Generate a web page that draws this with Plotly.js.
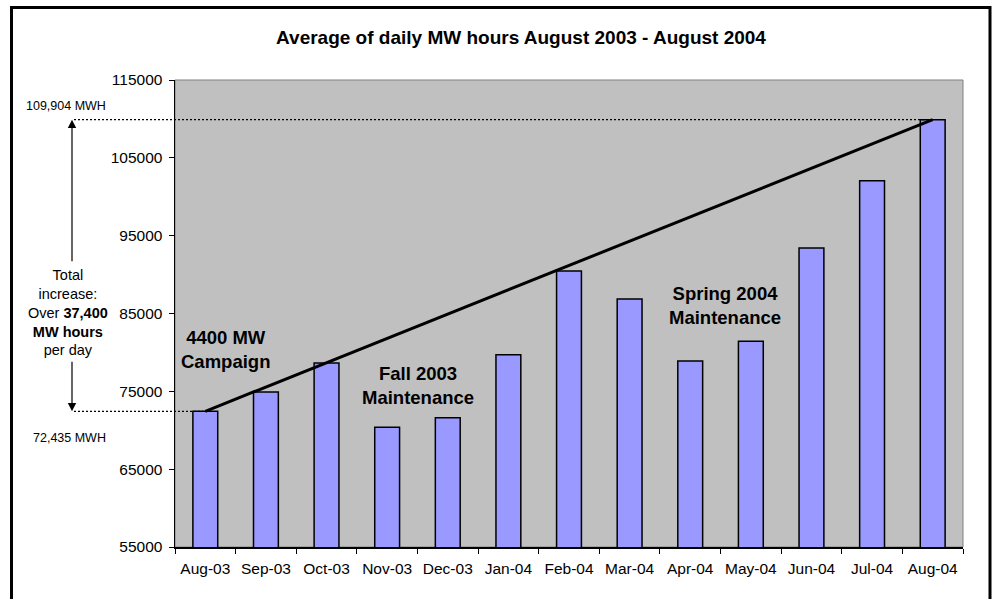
<!DOCTYPE html>
<html>
<head>
<meta charset="utf-8">
<script src="https://cdn.plot.ly/plotly-3.0.1.min.js"></script>
<style>html,body{margin:0;padding:0;background:#fff;}#chart{width:993px;height:599px;}</style>
</head>
<body>
<div id="chart"></div>
<script>
// ---- data ----
const months = ["Aug-03","Sep-03","Oct-03","Nov-03","Dec-03","Jan-04","Feb-04","Mar-04","Apr-04","May-04","Jun-04","Jul-04","Aug-04"];
const mwHours = [72435, 74900, 78650, 70400, 71600, 79700, 90450, 86850, 78900, 81450, 93400, 102050, 109904];
const yTicks = [55000, 65000, 75000, 85000, 95000, 105000, 115000];
const titleText = "Average of daily MW hours August 2003 - August 2004";
const startLabel = "72,435 MWH";
const endLabel = "109,904 MWH";
const increaseText = "Total<br>increase:<br>Over <b>37,400</b><br><b>MW hours</b><br>per day";
const notes = ["4400 MW<br>Campaign", "Fall 2003<br>Maintenance", "Spring 2004<br>Maintenance"];

// ---- layout geometry (pixels) ----
const W = 993, H = 599;
const L = 175, R = 963, T = 80, B = 547;
const pw = R - L, ph = B - T;
const px = x => (x - L) / pw;          // pixel x -> paper x
const py = y => (B - y) / ph;          // pixel y -> paper y
const n = months.length;
const catPaper = i => (i + 0.5) / n;
const last = n - 1;
const font = "'Liberation Sans', Arial, sans-serif";
const boldLines = s => "<b>" + s.split("<br>").join("</b><br><b>") + "</b>";

const bars = {
  type: "bar", x: months, y: mwHours,
  marker: {color: "#9999FF", line: {color: "#000", width: 1.5}},
  hoverinfo: "x+y"
};
const trend = {
  type: "scatter", mode: "lines",
  x: [months[0], months[last]], y: [mwHours[0], mwHours[last]],
  line: {color: "#000", width: 3}, hoverinfo: "skip"
};

const layout = {
  width: W, height: H,
  margin: {l: L, r: W - R, t: T, b: H - B, pad: 0},
  paper_bgcolor: "#fff", plot_bgcolor: "#C0C0C0",
  showlegend: false, bargap: 0.59,
  font: {family: font, color: "#000"},
  title: {text: "<b>" + titleText + "</b>", font: {family: font, size: 19, color: "#000"},
          xref: "container", yref: "container", x: 521 / W, y: 1 - 37 / H,
          xanchor: "center", yanchor: "middle"},
  xaxis: {type: "category", showgrid: false, zeroline: false,
          showline: true, linecolor: "#000", linewidth: 1.5,
          ticks: "outside", tickson: "boundaries", ticklen: 5, tickcolor: "#000", tickwidth: 1,
          tickangle: 0, ticklabelstandoff: 7,
          tickfont: {family: font, size: 15.5, color: "#000"}, fixedrange: true},
  yaxis: {range: [yTicks[0], yTicks[yTicks.length - 1]], tickvals: yTicks, ticktext: yTicks.map(String),
          showgrid: false, zeroline: false,
          showline: true, linecolor: "#000", linewidth: 1.5,
          ticks: "outside", ticklen: 5, tickcolor: "#000", tickwidth: 1,
          ticklabelstandoff: 3,
          tickfont: {family: font, size: 15.5, color: "#000"}, fixedrange: true},
  shapes: [
    {type: "rect", xref: "paper", yref: "paper", x0: 0, x1: 1, y0: 0, y1: 1,
     line: {color: "#808080", width: 1}, layer: "below"},
    {type: "rect", xref: "paper", yref: "paper", x0: px(11.5), x1: px(990), y0: py(605), y1: py(7.5),
     line: {color: "#000", width: 3}},
    {type: "line", xref: "paper", yref: "y", x0: px(74), x1: catPaper(last),
     y0: mwHours[last], y1: mwHours[last], line: {color: "#000", width: 1.2, dash: "2px,2px"}},
    {type: "line", xref: "paper", yref: "y", x0: px(74), x1: catPaper(0),
     y0: mwHours[0], y1: mwHours[0], line: {color: "#000", width: 1.2, dash: "2px,2px"}}
  ],
  annotations: [
    {xref: "paper", yref: "y", x: px(72), y: mwHours[last], text: "", showarrow: true,
     ax: 0, ay: 143, arrowhead: 2, arrowsize: 1.4, arrowwidth: 1.2, arrowcolor: "#000", standoff: 0},
    {xref: "paper", yref: "y", x: px(72), y: mwHours[0], text: "", showarrow: true,
     ax: 0, ay: -51, arrowhead: 2, arrowsize: 1.4, arrowwidth: 1.2, arrowcolor: "#000", standoff: 0},
    {xref: "paper", yref: "paper", x: px(66), y: py(106), text: endLabel, showarrow: false,
     xanchor: "center", yanchor: "middle", font: {family: font, size: 12.5}},
    {xref: "paper", yref: "paper", x: px(70), y: py(438), text: startLabel, showarrow: false,
     xanchor: "center", yanchor: "middle", font: {family: font, size: 12.5}},
    {xref: "paper", yref: "paper", x: px(68), y: py(312), text: increaseText, showarrow: false,
     xanchor: "center", yanchor: "middle", align: "center", font: {family: font, size: 14.5}},
    {xref: "paper", yref: "paper", x: px(225), y: py(350), text: boldLines(notes[0]),
     showarrow: false, xanchor: "center", yanchor: "middle", align: "center", font: {family: font, size: 18.5}},
    {xref: "paper", yref: "paper", x: px(418), y: py(385), text: boldLines(notes[1]),
     showarrow: false, xanchor: "center", yanchor: "middle", align: "center", font: {family: font, size: 18.5}},
    {xref: "paper", yref: "paper", x: px(725), y: py(305.5), text: boldLines(notes[2]),
     showarrow: false, xanchor: "center", yanchor: "middle", align: "center", font: {family: font, size: 18.5}}
  ]
};

Plotly.newPlot("chart", [bars, trend], layout, {displayModeBar: false, staticPlot: true});
</script>
</body>
</html>
